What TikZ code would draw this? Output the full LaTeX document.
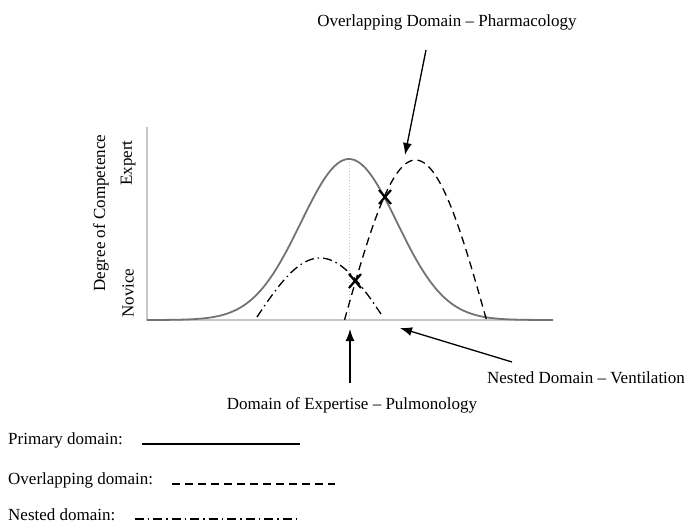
\documentclass[tikz,border=0pt]{standalone}
\usepackage{fontspec}
\setmainfont{Liberation Serif}
\usetikzlibrary{arrows.meta}
\begin{document}
\begin{tikzpicture}[x=1pt, y=-1pt,
        every node/.style={font=\fontsize{17}{20}\selectfont, inner sep=0pt},
        axisline/.style={draw=black!22, line width=1.5pt},
        primary/.style={draw=black!55, line width=1.8pt},
        overlap/.style={line width=1.3pt, dash pattern=on 8pt off 5pt},
        nested/.style={line width=1.3pt, dash pattern=on 9pt off 4pt on 1.5pt off 4pt},
        pointer/.style={-{Latex[length=12pt, width=9pt]}, line width=1.3pt},
        crossmark/.style={line width=2.2pt}]
        \useasboundingbox (0,0) rectangle (690,527);

        % Axes
        \coordinate (ytop) at (147,127);
        \coordinate (origin) at (147,320);
        \coordinate (xend) at (553,320);
        \draw[axisline] (ytop) -- (origin) -- (xend);
        \draw[black!25, dotted, line width=1pt] (349,159) -- (349,320);

        % Curves
        \draw[primary] plot[domain=147:553, samples=120] (\x, {320-161*exp(-0.5*((\x-349)/48)^2)});
        \draw[overlap] plot[domain=344.5:486.5, samples=80] (\x, {320-160*cos(90*(\x-415.5)/71)});
        \draw[nested] plot[domain=257:381, samples=60] (\x, {320-62*cos(90*(\x-320)/65)});

        % Crossings
        \coordinate (cross1) at (385,197);
        \coordinate (cross2) at (355,281);
        \foreach \c in {cross1, cross2}
            \draw[crossmark] ([shift={(-6,-7)}]\c) -- ([shift={(6,7)}]\c)
                             ([shift={(-6,7)}]\c) -- ([shift={(6,-7)}]\c);

        % Axis labels
        \node[rotate=90] (degree) at (101,213) {Degree of Competence};
        \node[rotate=90] (expert) at (128,163) {Expert};
        \node[rotate=90] (novice) at (128,293) {Novice};

        % Domain labels
        \node (pharm) at (447,22) {Overlapping Domain – Pharmacology};
        \node (pulmo) at (352,405) {Domain of Expertise – Pulmonology};
        \node (venti) at (586,378) {Nested Domain – Ventilation};

        \coordinate (pharmtail) at (426,50);
        \coordinate (pharmtip) at (405,155);
        \coordinate (pulmotail) at (350,383);
        \coordinate (pulmotip) at (350,329);
        \coordinate (ventitail) at (512,362);
        \coordinate (ventitip) at (400,328);
        \draw[pointer] (pharmtail) -- (pharmtip);
        \draw[pointer] (pulmotail) -- (pulmotip);
        \draw[pointer] (ventitail) -- (ventitip);

        % Legend
        \node[anchor=west] (legprimary) at (8,440) {Primary domain:};
        \node[anchor=west] (legoverlap) at (8,480) {Overlapping domain:};
        \node[anchor=west] (legnested) at (8,515) {Nested domain:};
        \draw[line width=1.3pt] ([xshift=19pt, yshift=-4pt]legprimary.east) -- (300,444);
        \draw[overlap] ([xshift=19pt, yshift=-4pt]legoverlap.east) -- (335,484);
        \draw[nested] ([xshift=19pt, yshift=-4pt]legnested.east) -- (297,519);
    \end{tikzpicture}
\end{document}
